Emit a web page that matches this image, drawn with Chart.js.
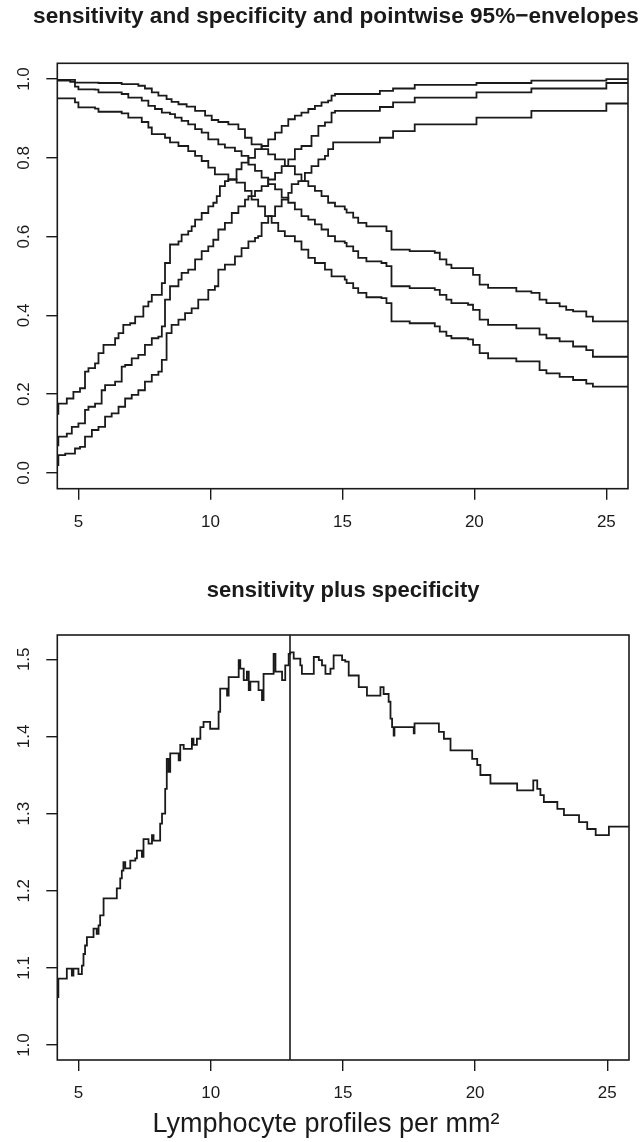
<!DOCTYPE html>
<html>
<head>
<meta charset="utf-8">
<script src="https://cdn.jsdelivr.net/npm/chart.js@4.4.0/dist/chart.umd.min.js"></script>
<style>
  html, body { margin: 0; padding: 0; background: #fff; }
  .panel { position: absolute; left: 0; width: 643px; }
  #top { top: 0; height: 545px; }
  #bottom { top: 545px; height: 597px; }
</style>
</head>
<body>
<div class="panel" id="top"><canvas id="rocChart" width="643" height="545"></canvas></div>
<div class="panel" id="bottom"><canvas id="sumChart" width="643" height="597"></canvas></div>
<script>
// ---- data ----
const topTitle = 'sensitivity and specificity and pointwise 95%\u2212envelopes';
const bottomTitle = 'sensitivity plus specificity';
const xTitle = 'Lymphocyte profiles per mm\u00B2';

const xRange = [4.2, 25.82];
const xTicks = [5, 10, 15, 20, 25];
const topYRange = [-0.04, 1.04];
const topYTicks = [0.0, 0.2, 0.4, 0.6, 0.8, 1.0];
const bottomYRange = [0.9806, 1.5315];
const bottomYTicks = [1.0, 1.1, 1.2, 1.3, 1.4, 1.5];
const cutoff = 13.0;

// sensitivity with upper / lower pointwise envelope  [x, y] step points
const sensUpper = [
  [4.20, 0.150], [4.24, 0.176], [4.56, 0.189], [4.81, 0.206], [5.06, 0.215], [5.25, 0.257],
  [5.38, 0.266], [5.63, 0.278], [5.76, 0.304], [5.95, 0.325], [6.39, 0.342], [6.52, 0.355],
  [6.70, 0.376], [6.96, 0.380], [7.15, 0.397], [7.46, 0.423], [7.65, 0.435], [7.78, 0.452],
  [8.16, 0.482], [8.28, 0.533], [8.47, 0.580], [8.79, 0.588], [8.91, 0.605], [9.16, 0.614],
  [9.29, 0.626], [9.42, 0.643], [9.67, 0.660], [9.92, 0.677], [10.11, 0.686], [10.24, 0.703],
  [10.36, 0.728], [10.55, 0.741], [10.68, 0.745], [10.99, 0.771], [11.18, 0.788], [11.44, 0.800],
  [11.69, 0.822], [11.94, 0.830], [12.19, 0.847], [12.45, 0.864], [12.70, 0.881], [12.95, 0.898],
  [13.20, 0.907], [13.45, 0.915], [13.71, 0.924], [13.96, 0.932], [14.21, 0.941], [14.46, 0.945],
  [14.59, 0.958], [14.72, 0.962], [16.42, 0.970], [16.92, 0.976], [17.74, 0.985], [20.08, 0.990],
  [22.16, 0.996], [25.00, 1.000], [25.82, 1.000]
];
const sens = [
  [4.20, 0.070], [4.24, 0.092], [4.56, 0.100], [4.75, 0.117], [5.00, 0.126], [5.25, 0.160],
  [5.38, 0.168], [5.63, 0.176], [5.88, 0.210], [6.01, 0.223], [6.39, 0.232], [6.64, 0.270],
  [6.77, 0.274], [7.02, 0.291], [7.27, 0.300], [7.52, 0.325], [7.78, 0.342], [8.03, 0.346],
  [8.16, 0.372], [8.28, 0.440], [8.47, 0.474], [8.79, 0.491], [8.91, 0.508], [9.16, 0.516],
  [9.42, 0.542], [9.67, 0.563], [9.92, 0.575], [10.11, 0.592], [10.30, 0.618], [10.55, 0.635],
  [10.81, 0.660], [11.06, 0.677], [11.31, 0.694], [11.44, 0.703], [11.69, 0.716], [11.94, 0.728],
  [12.19, 0.745], [12.45, 0.762], [12.70, 0.779], [12.95, 0.796], [13.20, 0.822], [13.45, 0.830],
  [13.83, 0.856], [14.09, 0.881], [14.34, 0.890], [14.59, 0.915], [14.72, 0.919], [16.42, 0.929],
  [16.92, 0.941], [17.74, 0.953], [20.08, 0.966], [22.16, 0.976], [25.00, 0.990], [25.82, 0.990]
];
const sensLower = [
  [4.20, 0.020], [4.24, 0.045], [4.50, 0.049], [4.87, 0.062], [5.06, 0.066], [5.25, 0.092],
  [5.51, 0.109], [5.76, 0.117], [6.01, 0.143], [6.26, 0.151], [6.52, 0.168], [6.77, 0.189],
  [7.02, 0.198], [7.27, 0.210], [7.52, 0.232], [7.78, 0.249], [8.03, 0.257], [8.16, 0.287],
  [8.34, 0.355], [8.53, 0.376], [8.79, 0.389], [9.04, 0.406], [9.29, 0.418], [9.54, 0.440],
  [9.92, 0.465], [10.17, 0.474], [10.30, 0.516], [10.55, 0.529], [10.93, 0.550], [11.18, 0.571],
  [11.44, 0.588], [11.69, 0.597], [11.81, 0.601], [11.94, 0.635], [12.19, 0.652], [12.45, 0.677],
  [12.70, 0.694], [12.95, 0.711], [13.08, 0.733], [13.33, 0.741], [13.58, 0.762], [13.83, 0.779],
  [14.09, 0.796], [14.34, 0.805], [14.46, 0.822], [14.65, 0.839], [16.42, 0.851], [16.92, 0.868],
  [17.74, 0.885], [20.08, 0.902], [22.16, 0.919], [25.00, 0.938], [25.82, 0.938]
];

// specificity with upper / lower pointwise envelope
const specUpper = [
  [4.20, 0.998], [4.87, 0.991], [5.76, 0.990], [6.64, 0.987], [7.27, 0.983], [7.52, 0.976],
  [7.78, 0.966], [8.03, 0.958], [8.34, 0.949], [8.53, 0.942], [8.79, 0.936], [9.10, 0.930],
  [9.42, 0.919], [9.80, 0.907], [10.05, 0.896], [10.30, 0.891], [10.68, 0.885], [11.06, 0.873],
  [11.31, 0.851], [11.56, 0.834], [11.94, 0.822], [12.19, 0.809], [12.45, 0.796], [12.82, 0.779],
  [13.20, 0.758], [13.45, 0.741], [13.71, 0.728], [13.96, 0.716], [14.21, 0.703], [14.46, 0.686],
  [14.72, 0.677], [15.09, 0.669], [15.16, 0.661], [15.41, 0.648], [15.60, 0.635], [15.91, 0.626],
  [16.67, 0.614], [16.86, 0.567], [17.55, 0.563], [18.50, 0.559], [18.69, 0.542], [18.94, 0.529],
  [19.13, 0.520], [19.95, 0.503], [20.20, 0.478], [20.52, 0.470], [21.59, 0.461], [22.16, 0.457],
  [22.47, 0.440], [22.73, 0.431], [23.23, 0.423], [23.48, 0.414], [23.74, 0.410], [24.24, 0.397],
  [24.49, 0.385], [25.82, 0.385]
];
const spec = [
  [4.20, 0.996], [4.69, 0.993], [4.87, 0.981], [5.00, 0.974], [5.63, 0.973], [5.76, 0.966],
  [6.64, 0.962], [6.89, 0.953], [7.40, 0.945], [7.65, 0.932], [7.90, 0.924], [8.16, 0.915],
  [8.47, 0.911], [8.66, 0.902], [8.91, 0.894], [9.16, 0.885], [9.42, 0.873], [9.67, 0.864],
  [9.92, 0.847], [10.30, 0.834], [10.55, 0.826], [10.93, 0.817], [11.18, 0.805], [11.44, 0.783],
  [11.69, 0.767], [11.94, 0.750], [12.19, 0.733], [12.45, 0.720], [12.70, 0.699], [12.95, 0.686],
  [13.20, 0.669], [13.45, 0.652], [13.71, 0.643], [13.96, 0.631], [14.21, 0.618], [14.46, 0.601],
  [14.72, 0.588], [15.09, 0.584], [15.16, 0.575], [15.41, 0.563], [15.60, 0.546], [15.91, 0.537],
  [16.48, 0.533], [16.67, 0.525], [16.86, 0.474], [17.55, 0.469], [18.50, 0.465], [18.69, 0.452],
  [18.94, 0.440], [19.13, 0.431], [19.76, 0.427], [19.95, 0.414], [20.20, 0.389], [20.52, 0.376],
  [21.59, 0.367], [22.47, 0.351], [22.73, 0.342], [23.23, 0.334], [23.74, 0.321], [24.24, 0.312],
  [24.49, 0.295], [25.82, 0.295]
];
const specLower = [
  [4.20, 0.951], [4.87, 0.941], [5.00, 0.928], [5.63, 0.925], [5.76, 0.917], [6.64, 0.913],
  [6.89, 0.902], [7.40, 0.891], [7.65, 0.877], [7.78, 0.860], [8.28, 0.851], [8.47, 0.839],
  [8.79, 0.830], [9.16, 0.817], [9.42, 0.805], [9.67, 0.792], [9.92, 0.775], [10.17, 0.758],
  [10.68, 0.745], [10.99, 0.737], [11.31, 0.716], [11.56, 0.694], [11.81, 0.677], [12.07, 0.652],
  [12.32, 0.635], [12.57, 0.614], [12.82, 0.601], [13.20, 0.588], [13.45, 0.567], [13.71, 0.546],
  [13.96, 0.533], [14.34, 0.516], [14.59, 0.499], [15.09, 0.491], [15.16, 0.482], [15.41, 0.469],
  [15.60, 0.457], [15.91, 0.446], [16.48, 0.444], [16.67, 0.431], [16.86, 0.385], [17.55, 0.380],
  [18.50, 0.372], [18.69, 0.359], [18.94, 0.348], [19.13, 0.342], [19.76, 0.339], [19.95, 0.325],
  [20.20, 0.304], [20.52, 0.291], [21.59, 0.283], [22.47, 0.261], [22.73, 0.253], [23.23, 0.244],
  [23.74, 0.236], [24.24, 0.227], [24.49, 0.219], [25.82, 0.219]
];

// sensitivity + specificity
const sensPlusSpec = [
  [4.20, 1.062], [4.24, 1.086], [4.56, 1.099], [4.75, 1.090], [4.81, 1.099], [5.00, 1.092],
  [5.13, 1.103], [5.19, 1.118], [5.25, 1.129], [5.32, 1.140], [5.57, 1.151], [5.69, 1.144],
  [5.76, 1.155], [5.82, 1.168], [5.95, 1.190], [6.45, 1.203], [6.58, 1.216], [6.64, 1.226],
  [6.70, 1.237], [6.77, 1.229], [6.96, 1.239], [7.15, 1.242], [7.21, 1.252], [7.40, 1.244],
  [7.46, 1.267], [7.65, 1.261], [7.78, 1.272], [7.84, 1.265], [8.09, 1.287], [8.16, 1.300],
  [8.28, 1.332], [8.34, 1.371], [8.41, 1.354], [8.47, 1.378], [8.79, 1.369], [8.85, 1.389],
  [8.98, 1.384], [9.29, 1.397], [9.35, 1.389], [9.48, 1.397], [9.61, 1.412], [9.73, 1.419],
  [9.98, 1.410], [10.30, 1.432], [10.36, 1.462], [10.62, 1.453], [10.68, 1.477], [11.06, 1.499],
  [11.12, 1.488], [11.25, 1.473], [11.37, 1.484], [11.44, 1.460], [11.50, 1.471], [11.81, 1.460],
  [11.94, 1.447], [12.00, 1.481], [12.38, 1.507], [12.45, 1.484], [12.70, 1.473], [12.82, 1.492],
  [12.95, 1.507], [13.01, 1.509], [13.14, 1.501], [13.39, 1.492], [13.45, 1.481], [13.90, 1.503],
  [14.09, 1.499], [14.21, 1.492], [14.34, 1.481], [14.53, 1.488], [14.65, 1.505], [14.97, 1.499],
  [15.09, 1.497], [15.22, 1.479], [15.60, 1.464], [15.91, 1.453], [16.42, 1.464], [16.54, 1.455],
  [16.73, 1.445], [16.80, 1.423], [16.86, 1.412], [16.92, 1.401], [16.95, 1.412], [17.68, 1.404],
  [17.71, 1.417], [18.63, 1.406], [18.82, 1.397], [19.07, 1.382], [19.89, 1.371], [20.08, 1.363],
  [20.20, 1.350], [20.58, 1.339], [21.59, 1.330], [22.20, 1.343], [22.35, 1.332], [22.47, 1.324],
  [22.60, 1.315], [23.11, 1.306], [23.36, 1.298], [23.93, 1.289], [24.24, 1.280], [24.56, 1.272],
  [25.06, 1.283], [25.82, 1.283]
];

// ---- styling helpers ----
const FONT = '"Liberation Sans", Arial, Helvetica, sans-serif';
const INK = '#1a1a1a';

const toPoints = pairs => pairs.map(p => ({ x: p[0], y: p[1] }));

const stepSet = pairs => ({
    data: toPoints(pairs),
    stepped: true,
    borderColor: INK,
    borderWidth: 1.8,
    pointRadius: 0,
    fill: false
});

// R-like box around the plotting region
const boxPlugin = {
    id: 'box',
    afterDraw(chart) {
        const a = chart.chartArea;
        const ctx = chart.ctx;
        ctx.save();
        ctx.strokeStyle = INK;
        ctx.lineWidth = 1.6;
        ctx.strokeRect(a.left, a.top, a.right - a.left, a.bottom - a.top);
        ctx.restore();
    }
};

// free-standing text (panel heading that runs past the plot, x caption)
function textPlugin(id, text, font, x, y) {
    return {
        id: id,
        afterDraw(chart) {
            const ctx = chart.ctx;
            ctx.save();
            ctx.fillStyle = INK;
            ctx.font = font;
            ctx.textAlign = 'center';
            ctx.textBaseline = 'middle';
            ctx.fillText(text, x, y);
            ctx.restore();
        }
    };
}

function xScale(height) {
    return {
        type: 'linear',
        min: xRange[0],
        max: xRange[1],
        afterBuildTicks: s => { s.ticks = xTicks.map(v => ({ value: v })); },
        afterFit: s => { s.height = height; },
        border: { display: false },
        grid: { drawOnChartArea: false, drawTicks: true, tickLength: 11, color: INK, lineWidth: 1.4 },
        ticks: { color: INK, font: { family: FONT, size: 17 }, padding: 12, maxRotation: 0 }
    };
}

function yScale(range, ticks, digits) {
    return {
        type: 'linear',
        min: range[0],
        max: range[1],
        afterBuildTicks: s => { s.ticks = ticks.map(v => ({ value: v })); },
        afterFit: s => { s.width = 57.3; },
        border: { display: false },
        grid: { drawOnChartArea: false, drawTicks: true, tickLength: 11, color: INK, lineWidth: 1.4 },
        ticks: {
            color: INK,
            font: { family: FONT, size: 17 },
            minRotation: 90,
            maxRotation: 90,
            crossAlign: 'center',
            padding: 10,
            callback: v => Number(v).toFixed(digits)
        }
    };
}

const common = {
    responsive: false,
    animation: false,
    events: []
};

// ---- top: sensitivity / specificity with envelopes ----
new Chart(document.getElementById('rocChart'), {
    type: 'line',
    data: {
        datasets: [sensUpper, sens, sensLower, specUpper, spec, specLower].map(stepSet)
    },
    options: Object.assign({}, common, {
        layout: { padding: { left: 0, right: 15, top: 63.3, bottom: 0 } },
        plugins: {
            legend: { display: false },
            tooltip: { enabled: false },
            title: { display: false }
        },
        scales: {
            x: xScale(56.3),
            y: yScale(topYRange, topYTicks, 1)
        }
    }),
    plugins: [boxPlugin, textPlugin('heading', topTitle, 'bold 22.6px ' + FONT, 336, 16.5)]
});

// ---- bottom: sensitivity plus specificity ----
new Chart(document.getElementById('sumChart'), {
    type: 'line',
    data: {
        datasets: [
            stepSet(sensPlusSpec),
            {
                data: [{ x: cutoff, y: bottomYRange[0] }, { x: cutoff, y: bottomYRange[1] }],
                borderColor: INK,
                borderWidth: 1.6,
                pointRadius: 0,
                fill: false
            }
        ]
    },
    options: Object.assign({}, common, {
        layout: { padding: { left: 0, right: 14, top: 0, bottom: 0 } },
        plugins: {
            legend: { display: false },
            tooltip: { enabled: false },
            title: {
                display: true,
                text: bottomTitle,
                fullSize: false,
                color: INK,
                font: { family: FONT, size: 22, weight: 'bold' },
                padding: { top: 32.8, bottom: 30.8 }
            }
        },
        scales: {
            x: xScale(82),
            y: yScale(bottomYRange, bottomYTicks, 1)
        }
    }),
    plugins: [boxPlugin, textPlugin('caption', xTitle, '27px ' + FONT, 326, 580)]
});
</script>
</body>
</html>
